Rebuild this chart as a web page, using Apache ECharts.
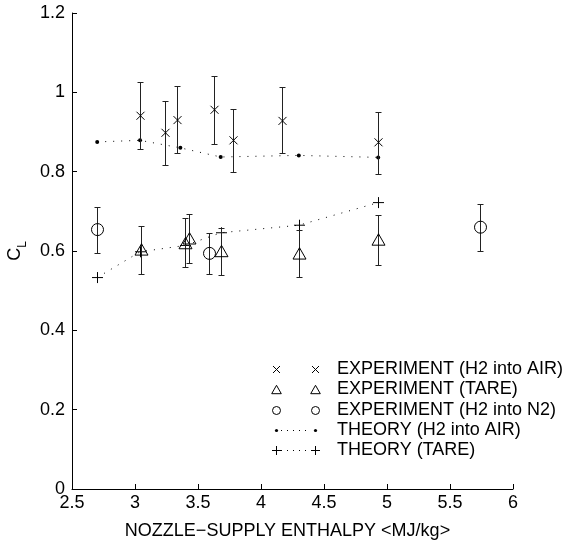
<!DOCTYPE html>
<html>
<head>
<meta charset="utf-8">
<script src="https://cdn.jsdelivr.net/npm/echarts@6/dist/echarts.min.js"></script>
<style>
  html, body { margin: 0; padding: 0; background: #fff; }
  #chart { width: 574px; height: 541px; }
</style>
</head>
<body>
<div id="chart"></div>
<script>
// Nozzle-supply enthalpy (MJ/kg) and lift coefficient C_L

// Experiment, H2 injected into air
const expAirH  = [3.04, 3.24, 3.33, 3.63, 3.78, 4.17, 4.93];
const expAirCL = [0.941, 0.898, 0.930, 0.956, 0.879, 0.928, 0.874];
const expAirLo = [0.856, 0.818, 0.847, 0.870, 0.799, 0.846, 0.795];
const expAirHi = [1.027, 0.979, 1.015, 1.042, 0.958, 1.013, 0.951];

// Experiment, tare (no injection)
const expTareH  = [3.05, 3.40, 3.43, 3.68, 4.30, 4.93];
const expTareCL = [0.604, 0.620, 0.632, 0.600, 0.594, 0.629];
const expTareLo = [0.543, 0.559, 0.569, 0.539, 0.534, 0.565];
const expTareHi = [0.664, 0.682, 0.694, 0.659, 0.653, 0.690];

// Experiment, H2 injected into N2
const expN2H  = [2.70, 3.59, 5.74];
const expN2CL = [0.654, 0.594, 0.660];
const expN2Lo = [0.596, 0.541, 0.600];
const expN2Hi = [0.712, 0.646, 0.718];

// Theory
const theoryAirH  = [2.70, 3.04, 3.36, 3.68, 4.30, 4.93];
const theoryAirCL = [0.875, 0.879, 0.860, 0.837, 0.841, 0.836];
const theoryTareH  = [2.70, 3.04, 3.40, 3.68, 4.30, 4.93];
const theoryTareCL = [0.533, 0.598, 0.614, 0.646, 0.665, 0.722];

// Legend labels
const legendLabels = [
  'EXPERIMENT (H2 into AIR)',
  'EXPERIMENT (TARE)',
  'EXPERIMENT (H2 into N2)',
  'THEORY (H2 into AIR)',
  'THEORY (TARE)'
];

const FONT = 'Liberation Sans, Arial, Helvetica, sans-serif';
const FS = 18;
const INK = '#000';

function rows(xs, ys, lo, hi) {
  return xs.map((x, i) => hi ? [x, ys[i], lo[i], hi[i]] : [x, ys[i]]);
}

// Marker shapes centred at (cx, cy)
function markerShape(kind, cx, cy, s) {
  const st = { stroke: INK, lineWidth: 1, fill: null };
  if (kind === 'x') {
    return { type: 'group', children: [
      { type: 'line', shape: { x1: cx - s, y1: cy - s, x2: cx + s, y2: cy + s }, style: st },
      { type: 'line', shape: { x1: cx - s, y1: cy + s, x2: cx + s, y2: cy - s }, style: st }
    ]};
  }
  if (kind === '+') {
    return { type: 'group', children: [
      { type: 'line', shape: { x1: cx - s, y1: cy, x2: cx + s, y2: cy }, style: st },
      { type: 'line', shape: { x1: cx, y1: cy - s, x2: cx, y2: cy + s }, style: st }
    ]};
  }
  if (kind === 'tri') {
    const h = s * 1.75;
    return { type: 'polygon', shape: { points: [[cx, cy - h * 0.5], [cx + s, cy + h * 0.5], [cx - s, cy + h * 0.5]] }, style: st };
  }
  if (kind === 'o') {
    return { type: 'circle', shape: { cx: cx, cy: cy, r: s }, style: st };
  }
  if (kind === 'dot') {
    return { type: 'circle', shape: { cx: cx, cy: cy, r: s }, style: { fill: INK, stroke: null } };
  }
}

// Error bar with marker, drawn through the axis scales
function errorBarRenderer(kind, size) {
  return function (params, api) {
    const x = api.value(0);
    const p = api.coord([x, api.value(1)]);
    const pLo = api.coord([x, api.value(2)]);
    const pHi = api.coord([x, api.value(3)]);
    const cx = Math.round(p[0]) + 0.5;
    const yLo = Math.round(pLo[1]) + 0.5;
    const yHi = Math.round(pHi[1]) + 0.5;
    const cap = 3;
    const st = { stroke: '#222', lineWidth: 1 };
    return { type: 'group', children: [
      { type: 'line', shape: { x1: cx, y1: yLo, x2: cx, y2: yHi }, style: st },
      { type: 'line', shape: { x1: cx - cap, y1: yLo, x2: cx + cap, y2: yLo }, style: st },
      { type: 'line', shape: { x1: cx - cap, y1: yHi, x2: cx + cap, y2: yHi }, style: st },
      markerShape(kind, cx, p[1], size)
    ]};
  };
}

function markerRenderer(kind, size) {
  return function (params, api) {
    const p = api.coord([api.value(0), api.value(1)]);
    return markerShape(kind, Math.round(p[0]) + 0.5, p[1], size);
  };
}

// Hand-built legend in the lower right of the plot
function legendGraphic() {
  const kinds = [['x', 3.5, false], ['tri', 4.8, false], ['o', 4, false], ['dot', 1.6, true], ['+', 4.5, true]];
  const x1 = 276, x2 = 315, tx = 337, y0 = 369, dy = 20.3;
  const els = [];
  kinds.forEach((k, i) => {
    const y = Math.round(y0 + i * dy) + 0.5;
    if (k[2]) {
      els.push({ type: 'line', shape: { x1: x1 + 5, y1: y, x2: x2 - 5, y2: y },
        style: { stroke: INK, lineWidth: 1, lineDash: [1, 5] } });
    }
    els.push(markerShape(k[0], x1 + 0.5, y, k[1]));
    els.push(markerShape(k[0], x2 + 0.5, y, k[1]));
    els.push({ type: 'text', x: tx, y: y, style: {
      text: legendLabels[i], fill: INK, font: FS + 'px ' + FONT,
      verticalAlign: 'middle', align: 'left' } });
  });
  return els;
}

const chart = echarts.init(document.getElementById('chart'), null, { renderer: 'canvas' });

const option = {
  backgroundColor: '#fff',
  animation: false,
  grid: { left: 72, right: 61, top: 13, bottom: 52, containLabel: false, outerBoundsMode: 'none' },
  xAxis: {
    type: 'value', min: 2.5, max: 6, interval: 0.5,
    name: 'NOZZLE\u2212SUPPLY ENTHALPY <MJ/kg>',
    nameLocation: 'middle', nameGap: 33,
    nameTextStyle: { color: INK, fontSize: FS, fontFamily: FONT, padding: [0, 10, 0, 0] },
    axisLine: { lineStyle: { color: INK, width: 1 } },
    axisTick: { inside: true, length: 5, lineStyle: { color: INK } },
    axisLabel: { color: INK, fontSize: FS, fontFamily: FONT, margin: 5 },
    splitLine: { show: false }
  },
  yAxis: {
    type: 'value', min: 0, max: 1.2, interval: 0.2,
    name: '{c|C}{s|L}',
    nameLocation: 'middle', nameGap: 40, nameRotate: 90,
    nameTextStyle: {
      color: INK, fontFamily: FONT,
      rich: {
        c: { fontSize: FS, fontFamily: FONT, color: INK, lineHeight: 20 },
        s: { fontSize: 12, fontFamily: FONT, color: INK, verticalAlign: 'bottom', lineHeight: 12, padding: [0, 0, -4, 0] }
      }
    },
    axisLine: { show: true, lineStyle: { color: INK, width: 1 } },
    axisTick: { inside: true, length: 5, lineStyle: { color: INK } },
    axisLabel: { color: INK, fontSize: FS, fontFamily: FONT, margin: 7 },
    splitLine: { show: false }
  },
  series: [
    {
      name: 'THEORY (H2 into AIR)', type: 'line',
      data: rows(theoryAirH, theoryAirCL),
      symbol: 'circle', symbolSize: 4, showSymbol: true,
      itemStyle: { color: INK },
      lineStyle: { color: INK, width: 1, type: [1, 7] },
      z: 3
    },
    {
      name: 'THEORY (TARE)', type: 'line',
      data: rows(theoryTareH, theoryTareCL),
      symbol: 'none',
      lineStyle: { color: INK, width: 1, type: [1, 7] },
      z: 3
    },
    {
      name: 'THEORY (TARE) markers', type: 'custom',
      data: rows(theoryTareH, theoryTareCL),
      renderItem: markerRenderer('+', 5.5),
      encode: { x: 0, y: 1 }, z: 4
    },
    {
      name: 'EXPERIMENT (H2 into AIR)', type: 'custom',
      data: rows(expAirH, expAirCL, expAirLo, expAirHi),
      renderItem: errorBarRenderer('x', 4),
      encode: { x: 0, y: [1, 2, 3] }, z: 5
    },
    {
      name: 'EXPERIMENT (TARE)', type: 'custom',
      data: rows(expTareH, expTareCL, expTareLo, expTareHi),
      renderItem: errorBarRenderer('tri', 6.5),
      encode: { x: 0, y: [1, 2, 3] }, z: 5
    },
    {
      name: 'EXPERIMENT (H2 into N2)', type: 'custom',
      data: rows(expN2H, expN2CL, expN2Lo, expN2Hi),
      renderItem: errorBarRenderer('o', 6),
      encode: { x: 0, y: [1, 2, 3] }, z: 5
    }
  ],
  graphic: legendGraphic()
};

chart.setOption(option);
</script>
</body>
</html>
